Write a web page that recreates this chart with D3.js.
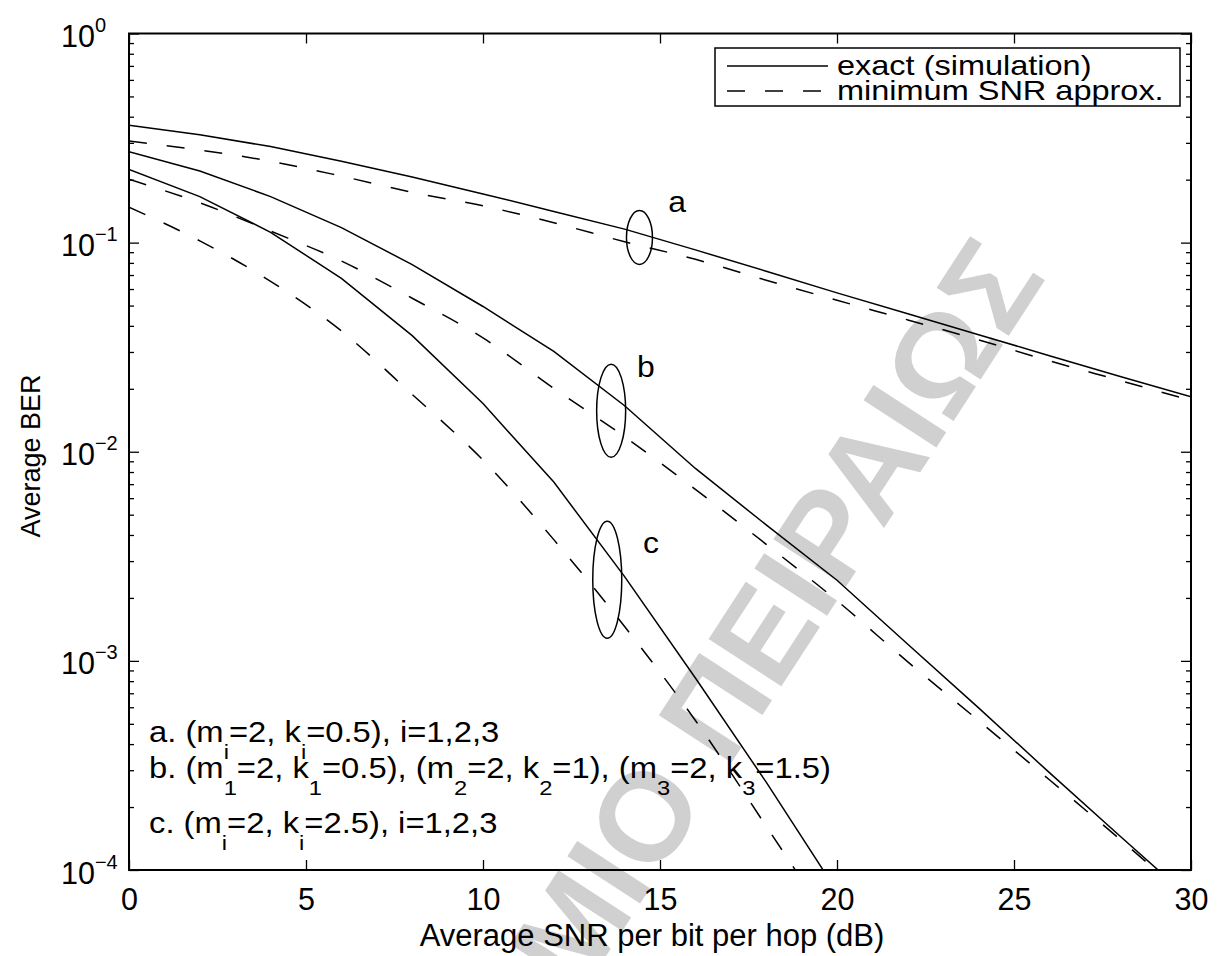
<!DOCTYPE html>
<html>
<head>
<meta charset="utf-8">
<script src="https://cdn.jsdelivr.net/npm/d3@7"></script>
<style>
  body { margin: 0; background: #fff; }
  svg { display: block; font-family: "Liberation Sans", Arial, Helvetica, sans-serif; }
</style>
</head>
<body>
<svg id="chart" width="1224" height="956"></svg>
<script>
// Average SNR per bit per hop (dB) at which the curves are evaluated
const snrDb = [0, 2, 4, 6, 8, 10, 12, 14, 16, 18, 20, 22, 24, 26, 28, 30];
const snrDbC = [0, 2, 4, 6, 8, 10, 12, 14, 16, 18, 20];

// Case a: exact (simulation) and minimum-SNR approximation
const exactA  = [0.364, 0.328, 0.288, 0.245, 0.206, 0.171, 0.141, 0.116, 0.0923, 0.073, 0.0575, 0.0457, 0.0363, 0.0288, 0.0229, 0.0183];
const approxA = [0.306, 0.277, 0.245, 0.208, 0.174, 0.150, 0.1245, 0.101, 0.0832, 0.0661, 0.053, 0.0427, 0.0343, 0.0272, 0.0219, 0.0176];

// Case b
const exactB  = [0.272, 0.220, 0.166, 0.118, 0.0785, 0.0495, 0.0302, 0.0166, 0.00832, 0.00447, 0.00243, 0.0012, 0.000596, 0.000292, 0.000145, 0.0000724];
const approxB = [0.201, 0.155, 0.1135, 0.0817, 0.0542, 0.035, 0.0201, 0.0118, 0.00661, 0.00361, 0.00194, 0.000989, 0.000518, 0.00027, 0.00014, 0.0000708];

// Case c
const exactC  = [0.224, 0.166, 0.112, 0.0675, 0.0359, 0.0170, 0.00716, 0.00253, 0.000828, 0.000263, 0.000079];
const approxC = [0.1476, 0.102, 0.0653, 0.0378, 0.0188, 0.00912, 0.0038, 0.00146, 0.000519, 0.000162, 0.00005];

// Axis ticks
const xTicks = [0, 5, 10, 15, 20, 25, 30];
const yExponents = [0, -1, -2, -3, -4];

// Legend entries and parameter notes (underscore marks a one-character subscript)
const legendLabels = ["exact (simulation)", "minimum SNR approx."];
const noteLines = [
  "a. (m_i=2, k_i=0.5), i=1,2,3",
  "b. (m_1=2, k_1=0.5), (m_2=2, k_2=1), (m_3=2, k_3=1.5)",
  "c. (m_i=2, k_i=2.5), i=1,2,3"
];

// Curve-group markers: ellipse centre (dB, BER) and the group letter position
const groupMarks = [
  { name: "a", cx: 14.42, cy: Math.pow(10, -0.975), rx: 13, ry: 27, lx: 15.23, ly: Math.pow(10, -0.854) },
  { name: "b", cx: 13.62, cy: Math.pow(10, -1.804), rx: 14.5, ry: 46.5, lx: 14.35, ly: Math.pow(10, -1.643) },
  { name: "c", cx: 13.51, cy: Math.pow(10, -2.612), rx: 14.5, ry: 58.5, lx: 14.52, ly: Math.pow(10, -2.484) }
];

// Background watermark text
const watermarkText = "ΠΑΝΕΠΙΣΤΗΜΙΟ ΠΕΙΡΑΙΩΣ";

const svg = d3.select("#chart");
const W = 1224, H = 956;
const plotL = 129, plotR = 1191, plotT = 33.5, plotB = 870;
const tickFont = 30.5;

const x = d3.scaleLinear().domain([0, 30]).range([plotL, plotR]);
const y = d3.scaleLog().domain([1e-4, 1]).range([plotB, plotT]);

svg.append("rect").attr("width", W).attr("height", H).attr("fill", "#fff");

// faint diagonal watermark behind everything
svg.append("text")
  .attr("transform", "translate(1047,277) rotate(-57)")
  .attr("text-anchor", "end")
  .attr("font-size", 126).attr("font-weight", "bold")
  .attr("fill", "#d0d0d0")
  .text(watermarkText);

// minor log ticks 2..9 in each decade
const minorTicks = [];
for (let e = -4; e < 0; e++) for (let m = 2; m <= 9; m++) minorTicks.push(m * Math.pow(10, e));
const majorY = yExponents.map(e => Math.pow(10, e));

const axisStyle = g => {
  g.selectAll("path.domain").remove();
  g.selectAll("line").attr("stroke", "#000").attr("stroke-width", 1.3);
};

// bottom axis with labels
svg.append("g").attr("transform", `translate(0,${plotB})`)
  .call(d3.axisBottom(x).tickValues(xTicks).tickSizeInner(-10).tickSizeOuter(0).tickPadding(18).tickFormat(d3.format("d")))
  .call(axisStyle)
  .call(g => g.selectAll("text").attr("font-size", tickFont).attr("fill", "#000").attr("font-family", null));

// top axis, ticks only
svg.append("g").attr("transform", `translate(0,${plotT})`)
  .call(d3.axisTop(x).tickValues(xTicks).tickSizeInner(-10).tickSizeOuter(0).tickFormat(""))
  .call(axisStyle);

// left axis, major ticks with power-of-ten labels
const yLeft = svg.append("g").attr("transform", `translate(${plotL},0)`)
  .call(d3.axisLeft(y).tickValues(majorY).tickSizeInner(-10).tickSizeOuter(0).tickFormat(""))
  .call(axisStyle);
yLeft.selectAll(".tick").each(function (d) {
  const t = d3.select(this).select("text")
    .attr("x", -68).attr("dy", null).attr("y", 13)
    .attr("text-anchor", "start").attr("font-size", tickFont).attr("fill", "#000").attr("font-family", null);
  const ex = Math.round(Math.log10(d));
  t.append("tspan").text("10");
  t.append("tspan").attr("font-size", 20).attr("dy", -15).text(ex === 0 ? "0" : "\u2212" + Math.abs(ex));
});
svg.append("g").attr("transform", `translate(${plotL},0)`)
  .call(d3.axisLeft(y).tickValues(minorTicks).tickSizeInner(-5).tickSizeOuter(0).tickFormat(""))
  .call(axisStyle);

// right axis, ticks only
svg.append("g").attr("transform", `translate(${plotR},0)`)
  .call(d3.axisRight(y).tickValues(majorY).tickSizeInner(-10).tickSizeOuter(0).tickFormat(""))
  .call(axisStyle);
svg.append("g").attr("transform", `translate(${plotR},0)`)
  .call(d3.axisRight(y).tickValues(minorTicks).tickSizeInner(-5).tickSizeOuter(0).tickFormat(""))
  .call(axisStyle);

// clip region for the curves
svg.append("clipPath").attr("id", "plot-clip")
  .append("rect").attr("x", plotL).attr("y", plotT).attr("width", plotR - plotL).attr("height", plotB - plotT);

const plot = svg.append("g").attr("clip-path", "url(#plot-clip)");
const solidLine = d3.line().x(d => x(d[0])).y(d => y(d[1]));
const dashLine = d3.line().x(d => x(d[0])).y(d => y(d[1])).curve(d3.curveMonotoneX);

const series = [
  { xs: snrDb, ys: exactA, dashed: false },
  { xs: snrDb, ys: approxA, dashed: true },
  { xs: snrDb, ys: exactB, dashed: false },
  { xs: snrDb, ys: approxB, dashed: true },
  { xs: snrDbC, ys: exactC, dashed: false },
  { xs: snrDbC, ys: approxC, dashed: true }
];
series.forEach(s => {
  const pts = s.xs.map((v, i) => [v, s.ys[i]]);
  plot.append("path")
    .attr("d", (s.dashed ? dashLine : solidLine)(pts))
    .attr("fill", "none").attr("stroke", "#000").attr("stroke-width", 1.5)
    .attr("stroke-dasharray", s.dashed ? "18 20" : null);
});

// group ellipses and letters
groupMarks.forEach(m => {
  svg.append("ellipse").attr("cx", x(m.cx)).attr("cy", y(m.cy)).attr("rx", m.rx).attr("ry", m.ry)
    .attr("fill", "none").attr("stroke", "#000").attr("stroke-width", 1.5);
  svg.append("text").attr("transform", `translate(${x(m.lx)},${y(m.ly)}) scale(1.1,1)`)
    .attr("font-size", 29).text(m.name);
});

// axes box
svg.append("rect").attr("x", plotL).attr("y", plotT).attr("width", plotR - plotL).attr("height", plotB - plotT)
  .attr("fill", "none").attr("stroke", "#000").attr("stroke-width", 2);

// text that is slightly widened horizontally
function wideText(parent, px, py, size, sx) {
  return parent.append("text").attr("transform", `translate(${px},${py}) scale(${sx},1)`).attr("font-size", size);
}

// parameter notes with hanging subscripts
function richText(sel, str) {
  const subDrop = 17;
  let i = 0, buf = "", pendingUp = false;
  const flush = () => {
    if (buf) {
      const ts = sel.append("tspan").text(buf);
      if (pendingUp) { ts.attr("dy", -subDrop); pendingUp = false; }
      buf = "";
    }
  };
  while (i < str.length) {
    if (str[i] === "_") {
      flush();
      sel.append("tspan").attr("font-size", 21).attr("dy", subDrop).text(str[i + 1]);
      pendingUp = true;
      i += 2;
    } else { buf += str[i]; i++; }
  }
  flush();
}
const noteBaselines = [742, 778, 833];
noteLines.forEach((line, k) => {
  richText(wideText(svg, 149, noteBaselines[k], 29, 1.13), line);
});

// legend
const lg = svg.append("g");
lg.append("rect").attr("x", 715).attr("y", 48).attr("width", 465).attr("height", 58)
  .attr("fill", "#fff").attr("stroke", "#000").attr("stroke-width", 1.5);
legendLabels.forEach((lab, k) => {
  const cy = 66 + k * 25;
  lg.append("line").attr("x1", 727).attr("x2", 828).attr("y1", cy).attr("y2", cy)
    .attr("stroke", "#000").attr("stroke-width", 1.5).attr("stroke-dasharray", k === 1 ? "18 20" : null);
  wideText(lg, 837, cy + 8.5, 28.5, 1.14).text(lab);
});

// axis titles
svg.append("text").attr("x", 652).attr("y", 946).attr("text-anchor", "middle")
  .attr("font-size", 31).text("Average SNR per bit per hop (dB)");
svg.append("text").attr("transform", `translate(40,456) rotate(-90)`)
  .attr("text-anchor", "middle").attr("font-size", 27).text("Average BER");
</script>
</body>
</html>
